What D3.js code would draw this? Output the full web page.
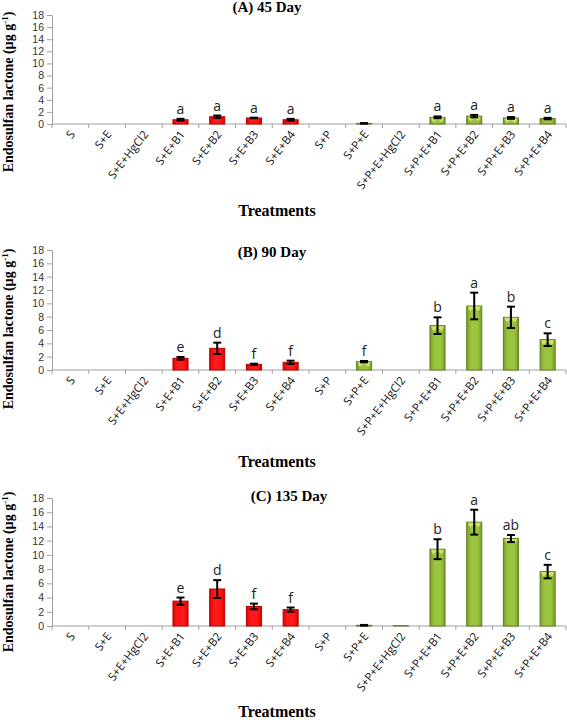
<!DOCTYPE html>
<html><head><meta charset="utf-8">
<script src="https://cdn.jsdelivr.net/npm/d3@7"></script>
<style>body{margin:0;background:#fff}svg{display:block}</style>
</head><body>
<script>
const categories = ["S","S+E","S+E+HgCl2","S+E+B1","S+E+B2","S+E+B3","S+E+B4","S+P","S+P+E","S+P+E+HgCl2","S+P+E+B1","S+P+E+B2","S+P+E+B3","S+P+E+B4"];
const yTicks = [0,2,4,6,8,10,12,14,16,18];
const values45 = [0,0,0,0.7,1.2,1.0,0.7,0,0.1,0,1.1,1.3,1.0,0.9];
const errors45 = [0,0,0,0.15,0.2,0.05,0.15,0,0.05,0,0.15,0.2,0.15,0.12];
const letters45 = ["","","","a","a","a","a","","","","a","a","a","a"];
const values90 = [0,0,0,1.75,3.25,0.85,1.15,0,1.25,0,6.65,9.6,7.9,4.55];
const errors90 = [0,0,0,0.2,0.85,0.1,0.25,0,0.1,0,1.25,2.0,1.6,0.95];
const letters90 = ["","","","e","d","f","f","","f","","b","a","b","c"];
const values135 = [0,0,0,3.5,5.2,2.75,2.3,0,0.1,0.05,10.8,14.6,12.3,7.65];
const errors135 = [0,0,0,0.5,1.25,0.4,0.3,0,0.05,0,1.4,1.75,0.5,0.95];
const letters135 = ["","","","e","d","f","f","","","","b","a","ab","c"];
const titles = ["(A) 45 Day","(B) 90 Day","(C) 135 Day"];

const W = 567, H = 720;
const svg = d3.select("body").append("svg").attr("width", W).attr("height", H);
const defs = svg.append("defs");
function grad(id, edge, mid) {
  const g = defs.append("linearGradient").attr("id", id).attr("x1", "0").attr("x2", "1").attr("y1", "0").attr("y2", "0");
  g.append("stop").attr("offset", "0%").attr("stop-color", edge);
  g.append("stop").attr("offset", "30%").attr("stop-color", mid);
  g.append("stop").attr("offset", "70%").attr("stop-color", mid);
  g.append("stop").attr("offset", "100%").attr("stop-color", edge);
}
grad("gRed", "#e00000", "#ff1a1a");
grad("gGreen", "#78a02c", "#9cc53f");

const panels = [
  {vals: values45, errs: errors45, lets: letters45, title: titles[0], top: 15, bottom: 124, titleX: 267, titleY: 12, xTitleY: 216, yTitleC: 92},
  {vals: values90, errs: errors90, lets: letters90, title: titles[1], top: 250, bottom: 370, titleX: 272, titleY: 257, xTitleY: 467, yTitleC: 329},
  {vals: values135, errs: errors135, lets: letters135, title: titles[2], top: 498, bottom: 626, titleX: 289, titleY: 501, xTitleY: 717, yTitleC: 572}
];

const x = d3.scaleBand().domain(categories).range([52, 566]).paddingInner(0).paddingOuter(0);
const barW = x.bandwidth() * 0.41;

panels.forEach(p => {
  const y = d3.scaleLinear().domain([0, 18]).range([p.bottom, p.top]);
  const g = svg.append("g");
  const ya = g.append("g").attr("transform", "translate(52,0)")
    .call(d3.axisLeft(y).tickValues(yTicks).tickSize(5).tickPadding(3));
  ya.select(".domain").attr("stroke", "#a0a0a0");
  ya.selectAll(".tick line").attr("stroke", "#a0a0a0");
  ya.selectAll(".tick text").attr("font-family", "Liberation Sans, Arial, sans-serif").attr("font-size", 10.5).attr("fill", "#333");
  g.append("line").attr("x1", 52).attr("x2", 566).attr("y1", p.bottom).attr("y2", p.bottom).attr("stroke", "#a0a0a0");
  categories.forEach(c => {
    const xv = x(c);
    g.append("line").attr("x1", xv).attr("x2", xv).attr("y1", p.bottom).attr("y2", p.bottom + 4).attr("stroke", "#a0a0a0");
  });
  g.append("line").attr("x1", 566).attr("x2", 566).attr("y1", p.bottom).attr("y2", p.bottom + 4).attr("stroke", "#a0a0a0");
  categories.forEach(c => {
    const cx = x(c) + x.bandwidth() / 2;
    g.append("text").attr("transform", `translate(${cx + 2},${p.bottom + 8}) rotate(-52)`)
      .attr("text-anchor", "end").attr("dy", "0.35em")
      .attr("font-family", "Open Sans, sans-serif").attr("font-size", 11.5).attr("fill", "#111").text(c);
  });
  categories.forEach((c, i) => {
    const v = p.vals[i];
    if (v <= 0) return;
    const green = i >= 7;
    const cx = x(c) + x.bandwidth() / 2;
    const x0 = cx - barW / 2, x1 = cx + barW / 2;
    g.append("rect").attr("x", x0).attr("y", y(v)).attr("width", barW).attr("height", y(0) - y(v))
      .attr("fill", green ? "url(#gGreen)" : "url(#gRed)")
      .attr("stroke", green ? "#5f7d22" : "#b30000").attr("stroke-width", 1);
    if (green && y(0) - y(v) > 6) {
      const t = y(v);
      g.append("path").attr("d", `M${x0 + 1},${t + 0.5}L${x1 - 1},${t + 0.5}L${x1 - 3},${t + 5}L${cx},${t + 2}L${x0 + 3},${t + 5}Z`)
        .attr("fill", "#cfe36f");
    }
    const e = p.errs[i];
    if (e > 0) {
      const eg = g.append("g").attr("stroke", "#000").attr("stroke-width", 2);
      eg.append("line").attr("x1", cx).attr("x2", cx).attr("y1", y(v + e)).attr("y2", y(Math.max(0, v - e)));
      eg.append("line").attr("x1", cx - 4).attr("x2", cx + 4).attr("y1", y(v + e)).attr("y2", y(v + e));
      eg.append("line").attr("x1", cx - 4).attr("x2", cx + 4).attr("y1", y(Math.max(0, v - e))).attr("y2", y(Math.max(0, v - e)));
    }
    if (p.lets[i]) {
      g.append("text").attr("x", cx).attr("y", y(v + e) - 5).attr("text-anchor", "middle")
        .attr("font-family", "Open Sans, sans-serif").attr("font-size", 14).attr("fill", "#222").text(p.lets[i]);
    }
  });
  g.append("text").attr("x", p.titleX).attr("y", p.titleY).attr("text-anchor", "middle")
    .attr("font-family", "Liberation Serif, serif").attr("font-weight", "bold").attr("font-size", 15).text(p.title);
  g.append("text").attr("x", 277).attr("y", p.xTitleY).attr("text-anchor", "middle")
    .attr("font-family", "Liberation Serif, serif").attr("font-weight", "bold").attr("font-size", 16).text("Treatments");
  const yt = g.append("text").attr("transform", `translate(13,${p.yTitleC}) rotate(-90)`).attr("text-anchor", "middle")
    .attr("font-family", "Liberation Serif, serif").attr("font-weight", "bold").attr("font-size", 14);
  yt.append("tspan").text("Endosulfan lactone  (µg g");
  yt.append("tspan").attr("baseline-shift", "super").attr("font-size", 9).text("-1");
  yt.append("tspan").text(")");
});
</script>
</body></html>
